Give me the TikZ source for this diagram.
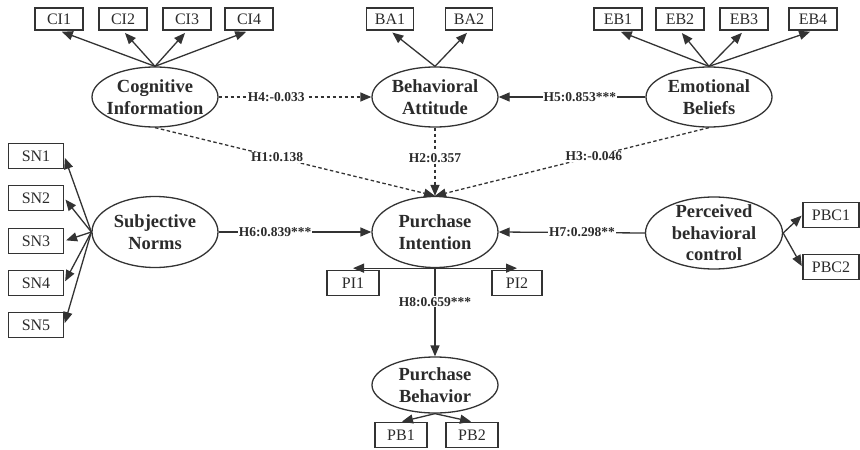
\documentclass[tikz,border=0pt]{standalone}
\usepackage{fontspec}
\setmainfont{Liberation Serif}
\usetikzlibrary{shapes.geometric,arrows.meta}
\definecolor{ln}{HTML}{333333}
\definecolor{tx}{HTML}{2B2B2B}
\begin{document}
\begin{tikzpicture}[x=1pt,y=-1pt,
  lat/.style={ellipse,draw=ln,line width=1.3pt,inner sep=0pt,minimum width=126pt,minimum height=60pt},
  lt/.style={font=\fontsize{18.5}{21.5}\selectfont\bfseries,text=tx,align=center,inner sep=0pt},
  ind/.style={draw=ln,line width=1.4pt,inner sep=0pt,minimum width=48pt,minimum height=22pt,font=\fontsize{16}{18}\selectfont,text=tx},
  indb/.style={ind,minimum width=54pt,minimum height=25pt},
  hl/.style={fill=white,inner sep=1pt,font=\fontsize{13.5}{15}\selectfont\bfseries,text=tx},
  arr/.style={draw=ln,line width=1.3pt,-{Triangle[length=11pt,width=9pt]}},
  dsh/.style={arr,dash pattern=on 3.5pt off 2.5pt}
]
\fill[white] (0,0) rectangle (860,450);
\useasboundingbox (0,0) rectangle (860,450);

% latent variables
\node[lat,label={[lt]center:{Cognitive\\Information}}] (ci) at (155,97) {};
\node[lat,label={[lt]center:{Behavioral\\Attitude}}] (ba) at (435,97) {};
\node[lat,label={[lt]center:{Emotional\\Beliefs}}] (eb) at (709,97) {};
\node[lat,minimum height=71pt,label={[lt]center:{Subjective\\Norms}}] (sn) at (155,232) {};
\node[lat,minimum height=71pt,label={[lt]center:{Purchase\\Intention}}] (pi) at (435,232) {};
\node[lat,minimum height=56pt,label={[lt]center:{Purchase\\Behavior}}] (pb) at (435,385) {};
\node[lat,minimum width=137pt,minimum height=72pt,label={[lt]center:{Perceived\\behavioral\\control}}] (pbc) at (714,233) {};

% indicators
\node[ind] (ci1) at (59,19) {CI1};
\node[ind] (ci2) at (123,19) {CI2};
\node[ind] (ci3) at (187,19) {CI3};
\node[ind] (ci4) at (249,19) {CI4};
\node[ind,minimum width=47pt] (ba1) at (390,19) {BA1};
\node[ind,minimum width=47pt] (ba2) at (469,19) {BA2};
\node[ind] (eb1) at (618,19) {EB1};
\node[ind] (eb2) at (680,19) {EB2};
\node[ind] (eb3) at (744,19) {EB3};
\node[ind] (eb4) at (813,19) {EB4};
\node[indb,minimum width=55pt] (sn1) at (36,156) {SN1};
\node[indb,minimum width=55pt] (sn2) at (36,198) {SN2};
\node[indb,minimum width=55pt] (sn3) at (36,241) {SN3};
\node[indb,minimum width=55pt] (sn4) at (36,283) {SN4};
\node[indb,minimum width=55pt] (sn5) at (36,325) {SN5};
\node[indb,minimum width=52pt] (pi1) at (353,283) {PI1};
\node[indb,minimum width=50pt] (pi2) at (517,283) {PI2};
\node[indb,minimum width=52pt] (pb1) at (401,435) {PB1};
\node[indb,minimum width=52pt] (pb2) at (472,435) {PB2};
\node[indb,minimum width=56pt] (pbc1) at (831,215) {PBC1};
\node[indb,minimum width=56pt] (pbc2) at (831,267) {PBC2};

% measurement arrows
\foreach \b in {ci1,ci2,ci3,ci4} \draw[arr,shorten >=3pt] (ci.north) -- (\b.south);
\foreach \b in {ba1,ba2} \draw[arr,shorten >=3pt] (ba.north) -- (\b.south);
\foreach \b in {eb1,eb2,eb3,eb4} \draw[arr,shorten >=3pt] (eb.north) -- (\b.south);
\foreach \b in {sn1,sn2,sn3,sn4,sn5} \draw[arr,shorten >=2pt] (sn.west) -- (\b.east);
\foreach \b in {pbc1,pbc2} \draw[arr,shorten >=1pt] (pbc.east) -- (\b.west);
\foreach \b in {pb1,pb2} \draw[arr,shorten >=1pt] (pb.south) -- (\b.north);
\draw[arr] (pi.south) -- (pi.south -| pi1);
\draw[arr] (pi.south) -- (pi.south -| pi2);

% structural paths
\draw[dsh] (ci.east) -- node[hl,pos=.377]{H4:-0.033} (ba.west);
\draw[arr] (eb.west) -- node[hl,pos=.446]{H5:0.853***} (ba.east);
\draw[dsh] (ci.south) -- node[hl,pos=.436]{H1:0.138} (pi.north);
\draw[dsh] (ba.south) -- node[hl,pos=.44]{H2:0.357} (pi.north);
\draw[dsh] (eb.south) -- node[hl,pos=.42]{H3:-0.046} (pi.north);
\draw[arr] (sn.east) -- node[hl,pos=.37]{H6:0.839***} (pi.west);
\draw[arr] (pbc.west) -- node[hl,pos=.43]{H7:0.298**} (pi.east);
\draw[arr] (pi.south) -- node[hl,pos=.38]{H8:0.659***} (pb.north);
\end{tikzpicture}
\end{document}
